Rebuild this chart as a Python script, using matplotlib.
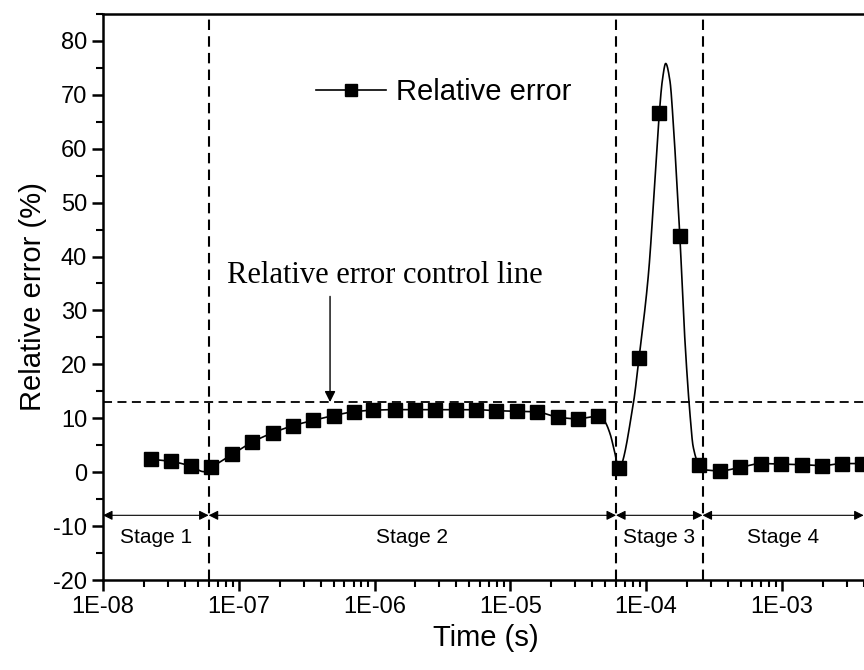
import numpy as np
import matplotlib.pyplot as plt
from matplotlib.ticker import LogLocator, NullFormatter, MultipleLocator

plt.rcParams['font.family'] = ['Liberation Sans', 'DejaVu Sans']
plt.rcParams['axes.unicode_minus'] = False

# datos (marcadores)
time_s = [2.24e-8, 3.15e-8, 4.47e-8, 6.27e-8, 8.91e-8, 1.26e-7, 1.78e-7, 2.49e-7,
          3.52e-7, 5.0e-7, 7.0e-7, 9.8e-7, 1.41e-6, 1.98e-6, 2.8e-6, 3.95e-6,
          5.58e-6, 7.83e-6, 1.11e-5, 1.56e-5, 2.23e-5, 3.13e-5, 4.4e-5, 6.27e-5,
          8.85e-5, 1.25e-4, 1.77e-4, 2.46e-4, 3.52e-4, 4.93e-4, 7.0e-4, 9.84e-4,
          1.4e-3, 1.97e-3, 2.78e-3, 3.88e-3]
rel_error = [2.4, 2.0, 1.1, 0.9, 3.3, 5.6, 7.3, 8.6,
             9.6, 10.5, 11.2, 11.5, 11.6, 11.6, 11.6, 11.6,
             11.6, 11.4, 11.3, 11.2, 10.2, 9.9, 10.4, 0.7,
             21.1, 66.6, 43.8, 1.3, 0.25, 0.9, 1.6, 1.5,
             1.4, 1.2, 1.6, 1.6]

# curva continua (mas puntos leidos donde la curva se dobla)
curve_time = [2.24e-8, 3.15e-8, 4.47e-8, 5.5e-8, 6.27e-8, 8.91e-8, 1.26e-7, 1.78e-7,
              2.49e-7, 3.52e-7, 5.0e-7, 7.0e-7, 9.8e-7, 1.41e-6, 1.98e-6, 2.8e-6,
              3.95e-6, 5.58e-6, 7.83e-6, 1.11e-5, 1.56e-5, 2.23e-5, 3.13e-5, 4.4e-5,
              4.98e-5, 5.41e-5, 5.89e-5, 6.27e-5, 8.04e-5, 8.85e-5, 1.04e-4, 1.16e-4,
              1.25e-4, 1.315e-4, 1.393e-4, 1.496e-4, 1.585e-4, 1.679e-4, 1.77e-4, 1.93e-4,
              2.10e-4, 2.22e-4, 2.46e-4, 2.79e-4, 3.52e-4, 4.93e-4, 7.0e-4, 9.84e-4,
              1.4e-3, 1.97e-3, 2.78e-3, 3.88e-3]
curve_value = [2.4, 2.0, 1.1, 0.1, 0.9, 3.3, 5.6, 7.3,
               8.6, 9.6, 10.5, 11.2, 11.5, 11.6, 11.6, 11.6,
               11.6, 11.6, 11.4, 11.3, 11.2, 10.2, 9.9, 10.4,
               9.3, 7.2, 3.5, 0.7, 12.7, 21.1, 36.8, 54.1,
               66.6, 72.6, 75.8, 72.6, 64.6, 54.1, 43.8, 24.4,
               10.9, 4.7, 1.3, 0.4, 0.25, 0.9, 1.6, 1.5,
               1.4, 1.2, 1.6, 1.6]

control_level = 13
stage_edges = [1e-8, 6e-8, 6e-5, 2.6e-4, 4e-3]
stage_names = ['Stage 1', 'Stage 2', 'Stage 3', 'Stage 4']
xtick_vals = [1e-8, 1e-7, 1e-6, 1e-5, 1e-4, 1e-3]
xtick_labels = ['1E-08', '1E-07', '1E-06', '1E-05', '1E-04', '1E-03']


def pchip(x, y, xs):
    # interpolacion cubica monotona, solo para suavizar el trazo
    h = np.diff(x)
    d = np.diff(y) / h
    n = len(x)
    m = np.zeros(n)
    m[0], m[-1] = d[0], d[-1]
    for k in range(1, n - 1):
        if d[k - 1] * d[k] > 0:
            w1 = 2 * h[k] + h[k - 1]
            w2 = h[k] + 2 * h[k - 1]
            m[k] = (w1 + w2) / (w1 / d[k - 1] + w2 / d[k])
    idx = np.clip(np.searchsorted(x, xs) - 1, 0, n - 2)
    t = (xs - x[idx]) / h[idx]
    return ((2 * t**3 - 3 * t**2 + 1) * y[idx] + (t**3 - 2 * t**2 + t) * h[idx] * m[idx]
            + (-2 * t**3 + 3 * t**2) * y[idx + 1] + (t**3 - t**2) * h[idx] * m[idx + 1])


lx = np.log10(curve_time)
xs = np.linspace(lx[0], lx[-1], 3000)
ys = pchip(lx, np.array(curve_value), xs)

fig = plt.figure(figsize=(8.64, 6.70), dpi=100)
ax = fig.add_axes([0.1192, 0.1343, 0.8854, 0.845])

ax.plot(10 ** xs, ys, color='black', lw=1.2, zorder=3)
ax.plot(time_s, rel_error, 's', color='black', ms=9.5, zorder=4)
ax.plot([], [], '-s', color='black', lw=1.2, ms=8.5, label='Relative error')

dash = (0, (5, 3))
ax.axhline(control_level, color='black', lw=1.3, ls=dash)
for xe in stage_edges[1:4]:
    ax.axvline(xe, color='black', lw=1.5, ls=dash)

# flechas de las etapas
for i, name in enumerate(stage_names):
    a, b = stage_edges[i], stage_edges[i + 1]
    ax.annotate('', xy=(b, -8), xytext=(a, -8),
                arrowprops=dict(arrowstyle='<|-|>', color='black', lw=0.8,
                                mutation_scale=14, shrinkA=0, shrinkB=0))
    ax.text(np.sqrt(a * b), -12.2, name, ha='center', va='center', fontsize=15)

ax.annotate('', xy=(4.7e-7, control_level), xytext=(4.7e-7, 32.6),
            arrowprops=dict(arrowstyle='-|>', color='black', lw=1.0,
                            mutation_scale=16, shrinkA=0, shrinkB=0))
ax.text(1.18e-6, 35.0, 'Relative error control line', ha='center', va='baseline',
        fontsize=22, family=['Liberation Serif', 'DejaVu Serif'])

ax.legend(loc='center left', bbox_to_anchor=(0.278, 0.862), frameon=False,
          fontsize=21, borderpad=0, borderaxespad=0, handlelength=2.4,
          handletextpad=0.35)

ax.set_xscale('log')
ax.set_xlim(1e-8, 4.3e-3)
ax.set_ylim(-20, 85)
ax.set_xticks(xtick_vals)
ax.set_xticklabels(xtick_labels)
ax.xaxis.set_minor_locator(LogLocator(base=10, subs=np.arange(2, 10)))
ax.xaxis.set_minor_formatter(NullFormatter())
ax.yaxis.set_major_locator(MultipleLocator(10))
ax.yaxis.set_minor_locator(MultipleLocator(5))

ax.tick_params(which='major', direction='out', length=8, width=1.8, labelsize=17)
ax.tick_params(which='minor', direction='out', length=5, width=1.5)
for sp in ax.spines.values():
    sp.set_linewidth(1.8)

ax.set_xlabel('Time (s)', fontsize=21)
ax.set_ylabel('Relative error (%)', fontsize=21)

fig.savefig('out.png', dpi=100)
